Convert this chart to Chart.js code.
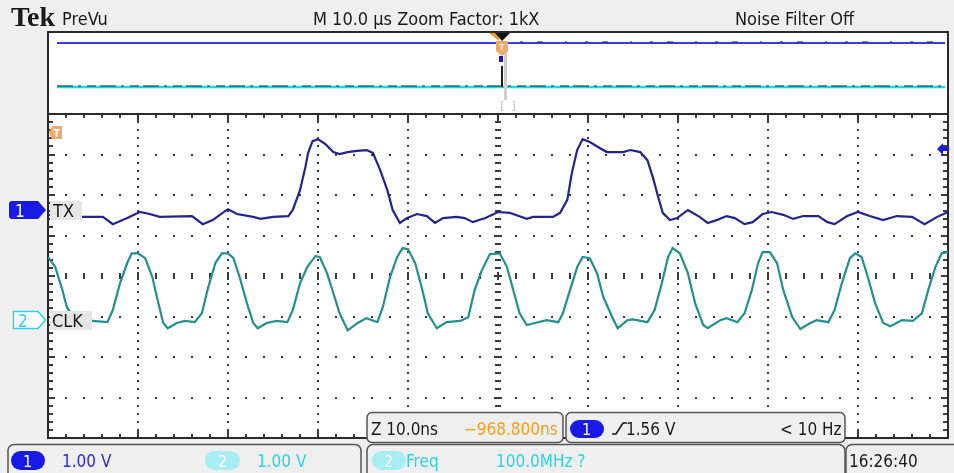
<!DOCTYPE html>
<html><head><meta charset="utf-8">
<script src="https://cdn.jsdelivr.net/npm/chart.js@4.4.1/dist/chart.umd.min.js"></script>
<style>
html,body{margin:0;padding:0;background:#fff;}
#wrap{position:relative;width:954px;height:473px;background:#efefef;overflow:hidden;}
#wrap canvas,#wrap svg{position:absolute;left:0;top:0;}
svg text{font-family:"Liberation Sans Narrow","DejaVu Sans Condensed","Liberation Sans",sans-serif;}
</style></head>
<body>
<div id="wrap">
<canvas id="pre" width="954" height="473"></canvas>
<canvas id="main" width="954" height="473"></canvas>
<svg id="ov" width="954" height="473" viewBox="0 0 954 473">
  <!-- header -->
  <text x="11" y="26" style="font-family:'Liberation Serif','DejaVu Serif',serif;font-weight:bold;font-size:28px" fill="#1a1a1a">Tek</text>
  <text x="62" y="25" font-size="18" fill="#1a1a1a">PreVu</text>
  <text x="313" y="25" font-size="18" fill="#1a1a1a">M 10.0 µs  Zoom Factor: 1kX</text>
  <text x="735" y="25" font-size="18" fill="#1a1a1a">Noise Filter Off</text>

  <!-- channel markers -->
  <path d="M12 201 H38 L46 210 L38 219 H12 Q9 219 9 216 V204 Q9 201 12 201 Z" fill="#1a1ae6"/>
  <text x="15" y="217" font-size="17" fill="#ffffff">1</text>
  <rect x="50" y="201" width="32" height="19" fill="#e6e6e6"/>
  <text x="53" y="217" font-size="18" fill="#1a1a1a">TX</text>

  <path d="M13.5 311.5 H38 L45.5 320 L38 328.5 H13.5 Z" fill="#ffffff" stroke="#2ad4e2" stroke-width="1.5"/>
  <text x="18" y="327" font-size="17" fill="#2ad4e2">2</text>
  <rect x="50" y="311" width="42" height="19" fill="#e6e6e6"/>
  <text x="52" y="327" font-size="18" fill="#1a1a1a">CLK</text>

  <!-- trigger position marker (left) and level arrow (right) -->
  <path d="M52 126 H62 V139 H52 L49 132.5 Z" fill="#f2a868"/>
  <text x="53.5" y="137" font-size="10" fill="#ffffff" font-weight="bold">T</text>
  <path d="M937 149 L943 143 V147 H949 V151 H943 V155 Z" fill="#1a1ae6"/>

  <!-- status boxes -->
  <rect x="367" y="412.5" width="196" height="30" rx="5" fill="#efefef" stroke="#555" stroke-width="1.5"/>
  <text x="371" y="435" font-size="17" fill="#1a1a1a">Z 10.0ns</text>
  <text x="464" y="435" font-size="17" fill="#f3a01c">−968.800ns</text>

  <rect x="566" y="412.5" width="279" height="30" rx="5" fill="#efefef" stroke="#555" stroke-width="1.5"/>
  <rect x="570" y="420" width="34" height="18" rx="9" fill="#1a1ae6"/>
  <text x="582" y="435" font-size="16" fill="#ffffff">1</text>
  <path d="M612 434 H616 L623 423 H627" fill="none" stroke="#1a1a1a" stroke-width="1.6"/>
  <text x="626" y="435" font-size="17" fill="#1a1a1a">1.56 V</text>
  <text x="780" y="435" font-size="17" fill="#1a1a1a">&lt; 10 Hz</text>

  <rect x="8" y="444.5" width="353" height="40" rx="6" fill="#efefef" stroke="#555" stroke-width="1.5"/>
  <rect x="11" y="451" width="34" height="19" rx="9.5" fill="#1a1ae6"/>
  <text x="23" y="467" font-size="16" fill="#ffffff">1</text>
  <text x="62" y="467" font-size="17" fill="#2a2ae0">1.00 V</text>
  <rect x="205" y="451" width="35" height="19" rx="9.5" fill="#a6eef2"/>
  <text x="218" y="467" font-size="16" fill="#ffffff">2</text>
  <text x="257" y="467" font-size="17" fill="#2ad4e2">1.00 V</text>

  <rect x="367" y="444.5" width="478" height="40" rx="6" fill="#efefef" stroke="#555" stroke-width="1.5"/>
  <rect x="372" y="451" width="34" height="19" rx="9.5" fill="#a6eef2"/>
  <text x="384" y="467" font-size="16" fill="#ffffff">2</text>
  <text x="406" y="467" font-size="17" fill="#2ad4e2">Freq</text>
  <text x="496" y="467" font-size="17" fill="#2ad4e2">100.0MHz  ?</text>

  <rect x="846" y="444.5" width="120" height="40" rx="6" fill="#efefef" stroke="#555" stroke-width="1.5"/>
  <text x="849" y="467" font-size="17" fill="#1a1a1a">16:26:40</text>
</svg>
</div>
<script>
// ===== Data =====
const timePerDivNs = 10;      // Z 10.0ns
const voltsPerDiv = 1.0;      // both channels 1.00 V/div

// Channel 1 (TX), time in ns, amplitude in volts
const txTimeNs = [0,3.8,6.1,7.2,8.8,10.2,11.3,12.4,16.0,17.2,18.3,19.4,20.0,21.0,22.8,23.6,25.0,26.7,27.2,28.0,28.6,28.9,29.4,30.0,30.8,31.7,32.4,33.3,34.3,35.4,36.1,36.9,37.7,38.3,39.1,39.9,41.0,42.1,43.0,43.9,45.4,46.3,47.2,48.6,50.0,51.3,53.2,53.9,56.1,56.9,57.7,58.2,58.8,59.4,60.2,61.3,62.1,63.9,64.7,65.8,66.6,67.2,67.8,68.3,69.1,69.9,71.1,72.4,73.3,74.3,75.4,76.3,77.4,78.3,79.4,80.4,81.7,82.8,83.9,85.6,86.6,87.4,88.8,90.0,91.3,92.8,94.3,96.0,97.4,98.8,100.0];
const txVolts  = [-0.12,-0.17,-0.17,-0.35,-0.20,-0.05,-0.10,-0.17,-0.15,-0.35,-0.25,-0.07,0.02,-0.10,-0.17,-0.22,-0.17,-0.15,0.00,0.49,1.06,1.41,1.70,1.75,1.63,1.43,1.38,1.43,1.46,1.48,1.41,0.99,0.49,0.00,-0.32,-0.20,-0.10,-0.15,-0.32,-0.20,-0.17,-0.20,-0.30,-0.20,-0.05,-0.07,-0.22,-0.17,-0.17,-0.07,0.25,0.91,1.48,1.75,1.68,1.53,1.43,1.43,1.48,1.43,1.23,0.81,0.32,-0.07,-0.25,-0.20,0.00,-0.17,-0.32,-0.25,-0.15,-0.20,-0.35,-0.30,-0.10,-0.05,-0.12,-0.22,-0.15,-0.15,-0.30,-0.35,-0.15,-0.05,-0.15,-0.25,-0.15,-0.17,-0.35,-0.17,-0.05];

// Channel 2 (CLK), time in ns, amplitude in volts
const clkTimeNs = [0,0.8,1.6,2.1,3.0,4.9,6.6,7.2,8.0,8.8,9.3,10.0,10.8,11.6,12.1,12.8,13.3,14.3,15.2,16.3,17.1,17.8,18.6,19.3,20.0,20.6,21.3,22.1,22.8,23.3,24.3,25.4,26.6,27.2,28.0,28.8,29.7,30.2,31.0,31.7,32.4,33.3,34.4,35.4,36.6,37.2,38.0,38.8,39.4,40.0,40.8,41.6,42.2,43.2,44.3,45.8,46.7,47.4,48.2,49.1,50.2,51.0,51.7,52.4,53.2,54.1,55.4,56.7,57.2,58.0,58.8,59.4,60.2,61.0,61.7,62.7,63.3,64.4,65.0,66.6,67.4,68.2,68.9,69.4,70.2,71.1,71.9,72.8,73.3,74.7,75.4,76.6,77.4,78.2,78.9,79.4,80.2,81.0,81.7,82.7,83.6,84.7,85.4,86.7,87.4,88.2,89.1,89.7,90.4,91.1,91.9,92.8,93.6,94.9,96.1,97.1,97.8,98.6,99.3,100.0];
const clkVolts  = [1.56,1.31,0.74,0.32,0.00,-0.02,-0.05,0.25,0.91,1.41,1.65,1.65,1.53,1.06,0.57,-0.07,-0.20,-0.07,-0.02,-0.05,0.17,0.81,1.41,1.65,1.65,1.53,1.06,0.42,-0.07,-0.20,-0.07,-0.02,-0.05,0.25,0.91,1.31,1.58,1.56,1.16,0.67,0.17,-0.25,-0.07,0.05,-0.05,0.32,1.06,1.56,1.78,1.75,1.41,0.74,0.17,-0.20,-0.05,-0.02,0.07,0.74,1.23,1.63,1.65,1.31,0.74,0.17,-0.12,-0.07,0.00,-0.05,0.17,0.74,1.31,1.56,1.53,1.16,0.57,0.07,-0.20,0.00,0.02,-0.05,0.25,0.91,1.56,1.78,1.65,1.16,0.42,-0.12,-0.20,0.00,0.05,-0.05,0.17,0.74,1.41,1.68,1.68,1.41,0.74,0.07,-0.22,-0.07,0.00,-0.05,0.25,0.91,1.53,1.65,1.56,1.06,0.42,-0.07,-0.15,0.00,-0.02,0.17,0.74,1.31,1.65,1.68];

// PreVu overview of the full record (M 10.0 µs/div), both channels flat at this scale
const previewTimeUs = [-50, 50];
const previewCh1Volts = [0, 0];
const previewCh2Volts = [0, 0];

// ===== Display setup =====
const divsX = 10, divsY = 8;
const ch1OffsetDiv = 1.63;   // ground marker of ch1, divisions above centre
const ch2OffsetDiv = -1.09;  // ground marker of ch2

function pts(xs, ys){ return xs.map((x,i)=>({x:x, y:ys[i]})); }

const graticule = {
  id:'graticule',
  beforeDatasetsDraw(chart){
    const {ctx, chartArea:a} = chart;
    const x = chart.scales.x, g = chart.scales.g;
    ctx.save();
    ctx.fillStyle = '#ffffff';
    ctx.fillRect(a.left, a.top, a.right-a.left, a.bottom-a.top);
    ctx.fillStyle = '#3a3a3a';
    const tMax = divsX*timePerDivNs;
    const cx = Math.round(x.getPixelForValue(tMax/2));
    const cy = Math.round(g.getPixelForValue(0));
    for (let i=1;i<divsX;i++){
      if (i===divsX/2) continue;
      const px = Math.round(x.getPixelForValue(i*timePerDivNs));
      for (let k=1;k<divsY*5;k++){
        const py = Math.round(g.getPixelForValue(-divsY/2 + k*0.2));
        ctx.fillRect(px-1, py-1, 2, 2);
      }
    }
    for (let j=1;j<divsY;j++){
      if (j===divsY/2) continue;
      const py = Math.round(g.getPixelForValue(-divsY/2 + j));
      for (let k=1;k<divsX*5;k++){
        const px = Math.round(x.getPixelForValue(k*timePerDivNs/5));
        ctx.fillRect(px-1, py-1, 2, 2);
      }
    }
    for (let k=1;k<divsX*5;k++){
      const px = Math.round(x.getPixelForValue(k*timePerDivNs/5));
      const major = k%5===0;
      ctx.fillRect(px-1, cy-(major?4:3), 2, major?8:6);
    }
    for (let k=1;k<divsY*5;k++){
      const py = Math.round(g.getPixelForValue(-divsY/2 + k*0.2));
      const major = k%5===0;
      ctx.fillRect(cx-(major?4:3), py-1, major?8:6, 2);
    }
    for (let k=1;k<divsX*5;k++){
      const px = Math.round(x.getPixelForValue(k*timePerDivNs/5));
      const L = (k%5===0)?7:4;
      ctx.fillRect(px-1, a.top, 2, L);
      ctx.fillRect(px-1, a.bottom-L, 2, L);
    }
    for (let k=1;k<divsY*5;k++){
      const py = Math.round(g.getPixelForValue(-divsY/2 + k*0.2));
      const L = (k%5===0)?7:5;
      ctx.fillRect(a.left, py-1, L, 2);
      ctx.fillRect(a.right-L, py-1, L, 2);
    }
    ctx.strokeStyle = '#2a2a2a';
    ctx.lineWidth = 2;
    ctx.strokeRect(a.left, a.top, a.right-a.left, a.bottom-a.top);
    ctx.restore();
  }
};

new Chart(document.getElementById('main'), {
  type:'line',
  data:{ datasets:[
    {label:'TX', data:pts(txTimeNs, txVolts), yAxisID:'y1', borderColor:'#24248e', borderWidth:2.2, pointRadius:0, tension:0, fill:false},
    {label:'CLK', data:pts(clkTimeNs, clkVolts), yAxisID:'y2', borderColor:'#21908f', borderWidth:2.2, pointRadius:0, tension:0, fill:false}
  ]},
  options:{
    responsive:false, animation:false, events:[],
    layout:{padding:{left:48, top:114, right:6, bottom:35}},
    plugins:{legend:{display:false}, tooltip:{enabled:false}},
    scales:{
      x:{type:'linear', axis:'x', position:'bottom', display:false, min:0, max:divsX*timePerDivNs},
      g:{type:'linear', axis:'y', position:'left', display:false, min:-divsY/2, max:divsY/2},
      y1:{type:'linear', axis:'y', position:'left', display:false, min:(-divsY/2-ch1OffsetDiv)*voltsPerDiv, max:(divsY/2-ch1OffsetDiv)*voltsPerDiv},
      y2:{type:'linear', axis:'y', position:'left', display:false, min:(-divsY/2-ch2OffsetDiv)*voltsPerDiv, max:(divsY/2-ch2OffsetDiv)*voltsPerDiv}
    }
  },
  plugins:[graticule]
});

// ===== PreVu overview window =====
const previewDeco = {
  id:'previewDeco',
  beforeDatasetsDraw(chart){
    const ctx = chart.ctx;
    ctx.save();
    ctx.fillStyle = '#ffffff';
    ctx.fillRect(48, 32, 900, 82);
    ctx.strokeStyle = '#2a2a2a'; ctx.lineWidth = 2;
    ctx.strokeRect(48, 32, 900, 82);
    ctx.restore();
  },
  afterDatasetsDraw(chart){
    const ctx = chart.ctx, a = chart.chartArea;
    const x = chart.scales.x;
    const y1 = chart.scales.p1.getPixelForValue(0), y2 = chart.scales.p2.getPixelForValue(0);
    ctx.save();
    ctx.strokeStyle = '#1e2a2a'; ctx.lineWidth = 1.2;
    ctx.setLineDash([16,5,3,6,9,4]);
    ctx.beginPath(); ctx.moveTo(a.left, y2-1); ctx.lineTo(a.right, y2-1); ctx.stroke();
    ctx.strokeStyle = '#222'; ctx.setLineDash([3,14,6,22,2,18]);
    ctx.beginPath(); ctx.moveTo(520, y1-1); ctx.lineTo(a.right-10, y1-1); ctx.stroke();
    ctx.setLineDash([]);
    const tx = Math.round(x.getPixelForValue(0));
    ctx.fillStyle = '#cfcfcf'; ctx.fillRect(tx+3, 50, 3, 50);
    ctx.fillStyle = '#1e1e1e'; ctx.fillRect(tx, 66, 2, y2-66);
    ctx.fillStyle = '#1a1ab0'; ctx.fillRect(tx-2, 56, 4, 6);
    ctx.fillStyle = '#f0a018';
    ctx.beginPath(); ctx.moveTo(tx-12,33); ctx.lineTo(tx-2,33); ctx.lineTo(tx-2,41); ctx.closePath(); ctx.fill();
    ctx.fillStyle = '#111';
    ctx.beginPath(); ctx.moveTo(tx-6,33); ctx.lineTo(tx+9,33); ctx.lineTo(tx+1,41); ctx.closePath(); ctx.fill();
    ctx.fillStyle = '#f2a868';
    ctx.beginPath(); ctx.moveTo(tx-5,41); ctx.lineTo(tx+7,41); ctx.lineTo(tx+7,51); ctx.lineTo(tx+1,56); ctx.lineTo(tx-5,51); ctx.closePath(); ctx.fill();
    ctx.fillStyle = '#fff'; ctx.font = 'bold 9px "Liberation Sans", sans-serif';
    ctx.fillText('T', tx-2, 50);
    ctx.fillStyle = '#bbbbbb'; ctx.font = '10px "DejaVu Sans Mono", monospace';
    ctx.fillText('[ ]', tx-2, 109);
    ctx.restore();
  }
};

new Chart(document.getElementById('pre'), {
  type:'line',
  data:{ datasets:[
    {label:'ch1 record', data:pts(previewTimeUs, previewCh1Volts), yAxisID:'p1', borderColor:'#3b3be6', borderWidth:2, pointRadius:0, tension:0},
    {label:'ch2 record', data:pts(previewTimeUs, previewCh2Volts), yAxisID:'p2', borderColor:'#22d6dc', borderWidth:2.5, pointRadius:0, tension:0}
  ]},
  options:{
    responsive:false, animation:false, events:[],
    layout:{padding:{left:57, top:32, right:9, bottom:359}},
    plugins:{legend:{display:false}, tooltip:{enabled:false}},
    scales:{
      x:{type:'linear', axis:'x', position:'bottom', display:false, min:-50, max:50},
      p1:{type:'linear', axis:'y', position:'left', display:false, min:-7.1, max:1.1},
      p2:{type:'linear', axis:'y', position:'left', display:false, min:-2.7, max:5.5}
    }
  },
  plugins:[previewDeco]
});
</script>
</body></html>
